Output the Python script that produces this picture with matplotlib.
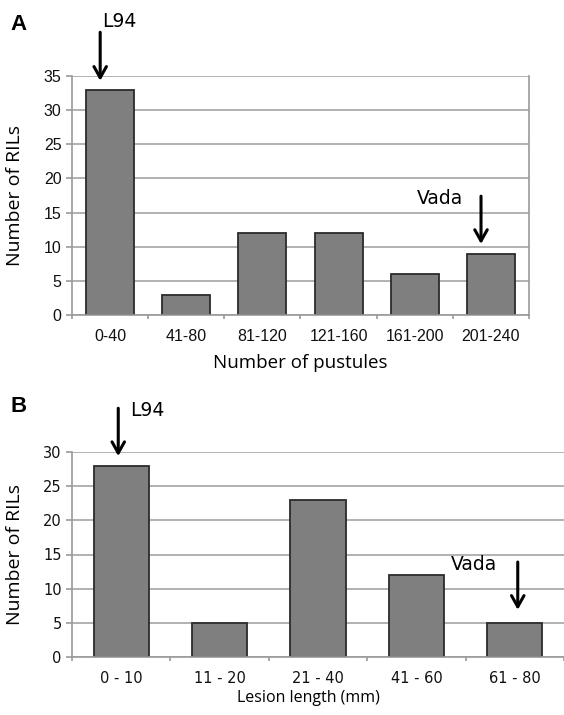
import numpy as np
import matplotlib
matplotlib.use("Agg")
import matplotlib.pyplot as plt

# panel A: pustule counts
pust_bins = ["0-40", "41-80", "81-120", "121-160", "161-200", "201-240"]
pust_rils = [33, 3, 12, 12, 6, 9]

# panel B: lesion length
lesion_bins = ["0 - 10", "11 - 20", "21 - 40", "41 - 60", "61 - 80"]
lesion_rils = [28, 5, 23, 12, 5]

BAR = "#7f7f7f"
EDGE = "#2b2b2b"
GRID = "#ababab"


def style_axes(ax, n, ymax, tickfont, tsize, right_spine):
    ax.set_xlim(-0.5, n - 0.5)
    ax.set_ylim(0, ymax)
    ax.set_yticks(np.arange(0, ymax + 1, 5))
    ax.yaxis.grid(True, color=GRID, linewidth=1.3)
    ax.set_axisbelow(True)
    for s in ["top", "right"]:
        ax.spines[s].set_visible(False)
    if right_spine:
        ax.spines["right"].set_visible(True)
    for s in ["left", "bottom", "right"]:
        ax.spines[s].set_color("#9a9a9a")
        ax.spines[s].set_linewidth(1.2)
    ax.set_xticks(np.arange(n))
    ax.set_xticks(np.arange(n + 1) - 0.5, minor=True)
    ax.tick_params(axis="x", which="major", length=0, pad=10)
    ax.tick_params(axis="x", which="minor", length=3, color="#9a9a9a", width=1.2)
    ax.tick_params(axis="y", length=4.5, color="#9a9a9a", width=1.2, pad=3)
    for lab in ax.get_xticklabels() + ax.get_yticklabels():
        lab.set_fontfamily(tickfont)
        lab.set_fontsize(tsize)
        lab.set_color("#111111")


def arrow(ax, x, y0, y1):
    ax.annotate("", xy=(x, y1), xytext=(x, y0),
                arrowprops=dict(arrowstyle="->,head_length=0.8,head_width=0.45",
                                color="black", lw=2.2, shrinkA=0, shrinkB=0),
                annotation_clip=False)


fig = plt.figure(figsize=(5.64, 7.15), dpi=100)

# ---- A
axA = fig.add_axes([72 / 564, 1 - 315 / 715, 457 / 564, 239 / 715])
xa = np.arange(len(pust_bins))
axA.bar(xa, pust_rils, width=0.63, color=BAR, edgecolor=EDGE, linewidth=1.3)
axA.set_xticks(xa)
axA.set_xticklabels(pust_bins)
style_axes(axA, len(pust_bins), 35, "Liberation Sans", 11.5, True)
axA.set_ylabel("Number of RILs", fontfamily="Open Sans", fontsize=14)
axA.yaxis.set_label_coords(-0.105, 0.5)
axA.set_xlabel("Number of pustules", fontfamily="Open Sans", fontsize=13.5, va="top")
axA.xaxis.set_label_coords(0.5, -0.165)

arrow(axA, -0.13, 41.4, 34.3)
axA.text(-0.11, 43.0, "L94", fontsize=13.5, va="center", ha="left", clip_on=False)
arrow(axA, 4.87, 17.4, 10.4)
axA.text(4.63, 17.0, "Vada", fontsize=13.5, va="center", ha="right")
fig.text(10 / 564, 1 - 25 / 715, "A", fontfamily="Liberation Sans", fontweight="bold",
         fontsize=16, va="center", ha="left")

# ---- B
axB = fig.add_axes([72 / 564, 1 - 657 / 715, 492 / 564, 205 / 715])
xb = np.arange(len(lesion_bins))
axB.bar(xb, lesion_rils, width=0.56, color=BAR, edgecolor=EDGE, linewidth=1.3)
axB.set_xticks(xb)
axB.set_xticklabels(lesion_bins)
style_axes(axB, len(lesion_bins), 30, "DejaVu Sans", 10.5, False)
axB.set_ylabel("Number of RILs", fontfamily="Open Sans", fontsize=14)
axB.yaxis.set_label_coords(-0.098, 0.5)
axB.set_xlabel("Lesion length (mm)", fontfamily="Open Sans", fontsize=11.5, va="top")
axB.xaxis.set_label_coords(0.48, -0.16)

arrow(axB, -0.03, 36.4, 29.4)
axB.text(0.09, 36.1, "L94", fontsize=13.5, va="center", ha="left", clip_on=False)
arrow(axB, 4.03, 13.9, 6.9)
axB.text(3.82, 13.5, "Vada", fontsize=13.5, va="center", ha="right")
fig.text(10 / 564, 1 - 406 / 715, "B", fontfamily="Liberation Sans", fontweight="bold",
         fontsize=16, va="center", ha="left")

fig.savefig("out.png", dpi=100)
